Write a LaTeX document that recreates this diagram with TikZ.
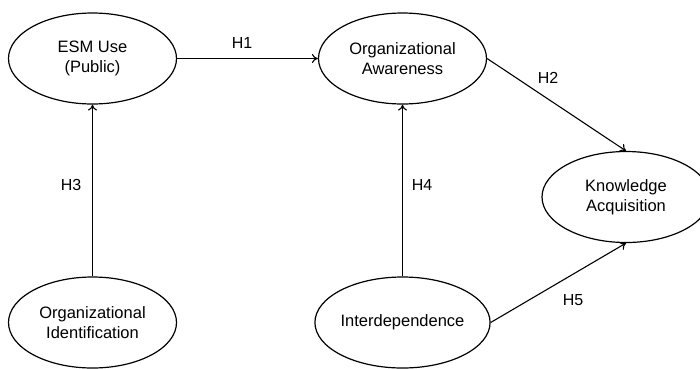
\documentclass[tikz,border=0pt]{standalone}
\usepackage{fontspec}
\setmainfont{Liberation Sans}
\usetikzlibrary{shapes.geometric,arrows.meta}
\begin{document}
\begin{tikzpicture}[x=1pt,y=-1pt,
  construct/.style={ellipse,draw=black,line width=1.2pt,minimum width=168pt,minimum height=91pt,inner sep=0pt,align=center,font=\fontsize{16.5}{20}\selectfont},
  arr/.style={line width=1.1pt,-{To[length=6pt,width=9pt]}},
  hlabel/.style={font=\fontsize{16}{19}\selectfont,inner sep=0pt}]
\useasboundingbox (0,0) rectangle (700,368);
\clip (0,0) rectangle (700,368);
\node[construct] (esm) at (92.5,58.5) {ESM Use\\(Public)};
\node[construct] (oa) at (402.5,58.5) {Organizational\\Awareness};
\node[construct] (ka) at (626,197) {Knowledge\\Acquisition};
\node[construct] (oi) at (92.5,322.5) {Organizational\\Identification};
\node[construct] (id) at (402.5,322.5) {Interdependence};
\draw[arr] (esm) -- (oa);
\draw[arr] (oa.east) -- (ka.north);
\draw[arr] (oi) -- (esm);
\draw[arr] (id) -- (oa);
\draw[arr] (id.east) -- (ka.south);
\node[hlabel] (h1) at (242,43) {H1};
\node[hlabel] (h2) at (548,78) {H2};
\node[hlabel] (h3) at (71,185) {H3};
\node[hlabel] (h4) at (422,185) {H4};
\node[hlabel] (h5) at (573,300) {H5};
\end{tikzpicture}
\end{document}
